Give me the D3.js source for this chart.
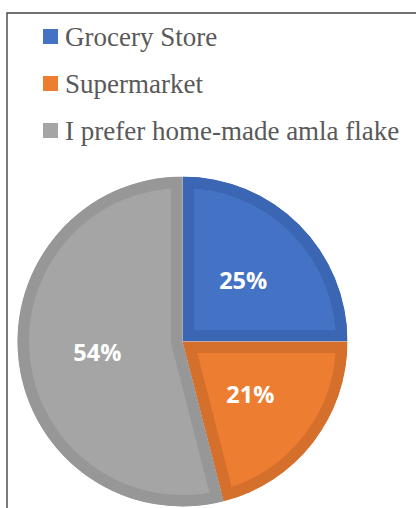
<!DOCTYPE html>
<html>
<head>
<meta charset="utf-8">
<script src="https://cdn.jsdelivr.net/npm/d3@7"></script>
<style>
  html, body { margin: 0; padding: 0; background: #fff; }
  svg { display: block; }
</style>
</head>
<body>
<svg id="chart" width="416" height="508"></svg>
<script>
// Where people buy amla flakes
const categories = ["Grocery Store", "Supermarket", "I prefer home-made amla flake"];
const shares = [25, 21, 54];
const fillColors = ["#4472C4", "#ED7D31", "#A5A5A5"];
const edgeColors = ["#3A66B3", "#D5702C", "#979797"];

const svg = d3.select("#chart");
const W = 416, H = 508;

// chart frame (top and left edges visible)
svg.append("path")
  .attr("d", `M7,${H} L7,13 L${W},13`)
  .attr("fill", "none")
  .attr("stroke", "#444")
  .attr("stroke-width", 1.4);

// legend
const legend = svg.append("g");
const rowY = d3.scalePoint().domain(categories).range([36.5, 130.5]);
const rows = legend.selectAll("g").data(categories).join("g")
  .attr("transform", d => `translate(0,${rowY(d)})`);
rows.append("rect")
  .attr("x", 43).attr("y", -7.5).attr("width", 15).attr("height", 15)
  .attr("fill", (d, i) => fillColors[i]);
rows.append("text")
  .attr("x", 65).attr("y", 9.5)
  .attr("font-family", "'Liberation Serif', 'Times New Roman', serif")
  .attr("font-size", 27)
  .attr("fill", "#595959")
  .text(d => d);

// pie
const cx = 182.5, cy = 341.5, R = 165;
const pie = d3.pie().sort(null).value(d => d);
const arcs = pie(shares);
const arc = d3.arc().innerRadius(0).outerRadius(R);
const labelArc = d3.arc().innerRadius(R * 0.52).outerRadius(R * 0.52);

const g = svg.append("g").attr("transform", `translate(${cx},${cy})`);
const defs = svg.append("defs");
arcs.forEach((a, i) => {
  defs.append("clipPath").attr("id", "slice" + i)
    .append("path").attr("d", arc(a));
});

g.selectAll("path.slice").data(arcs).join("path")
  .attr("class", "slice")
  .attr("d", arc)
  .attr("fill", (d, i) => fillColors[i])
  .attr("stroke", (d, i) => edgeColors[i])
  .attr("stroke-width", 23)
  .attr("stroke-linejoin", "miter")
  .attr("clip-path", (d, i) => `url(#slice${i})`);

g.selectAll("text.pct").data(arcs).join("text")
  .attr("class", "pct")
  .attr("transform", d => `translate(${labelArc.centroid(d)})`)
  .attr("text-anchor", "middle")
  .attr("dy", "0.36em")
  .attr("font-family", "'Open Sans', 'Noto Sans', sans-serif")
  .attr("font-weight", 700)
  .attr("font-size", 23.5)
  .attr("fill", "#fff")
  .text(d => d.data + "%");
</script>
</body>
</html>
